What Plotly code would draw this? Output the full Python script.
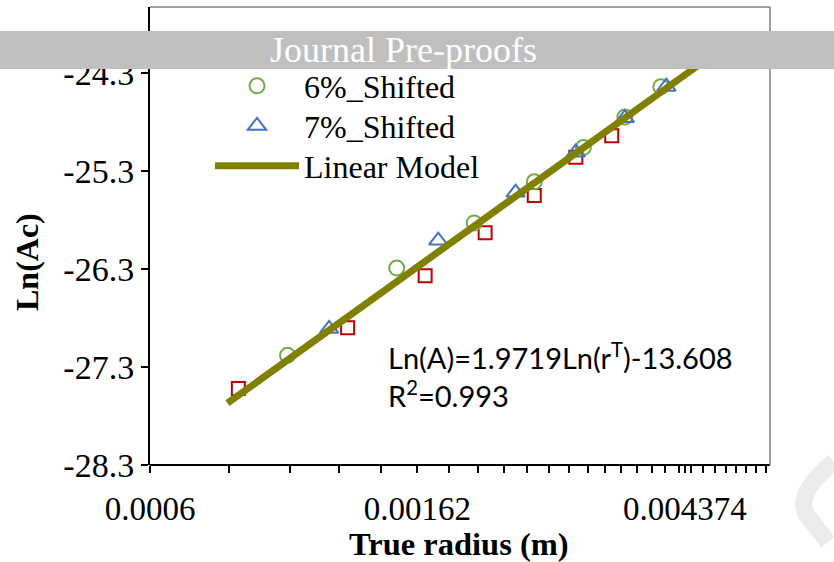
import numpy as np
import plotly.graph_objects as go

# Measured points for the three shift levels: true radius (m) vs Ln(Ac)
r_5 = [0.000833, 0.00125, 0.001667, 0.002083, 0.0025, 0.002917, 0.003333]
ln_ac_5 = [-27.52, -26.90, -26.37, -25.93, -25.55, -25.16, -24.94]

r_6 = [0.001, 0.0015, 0.002, 0.0025, 0.003, 0.0035, 0.004]
ln_ac_6 = [-27.18, -26.29, -25.83, -25.41, -25.06, -24.75, -24.44]

r_7 = [0.001167, 0.00175, 0.002333, 0.002917, 0.0035, 0.004083]
ln_ac_7 = [-26.91, -26.01, -25.52, -25.11, -24.76, -24.44]

# Fitted linear model Ln(A) = a*Ln(r) + b
slope = 1.9719
intercept = -13.608
r_fit_span = [0.0008, 0.0049]

x_major = [0.0006, 0.00162, 0.004374]
x_major_text = ["0.0006", "0.00162", "0.004374"]
x_minor_step = 0.000204
y_ticks = [-28.3, -27.3, -26.3, -25.3, -24.3]
y_tick_text = ["-28.3", "-27.3", "-26.3", "-25.3", "-24.3"]

X_MIN, X_BOX, X_MAX_LOG = 0.0006, 0.006, np.log10(0.0006) + 684 / 620
Y_MIN, Y_MAX = -28.3, -28.3 + 458 / 98

W, H = 834, 562
ML, MR, MT, MB = 150, 0, 7, 97
PW, PH = W - ML - MR, H - MT - MB


def px(xp):
    return (xp - ML) / PW


def py(yp):
    return (H - MB - yp) / PH


serif = "Times New Roman, Liberation Serif, serif"

r_line = np.geomspace(r_fit_span[0], r_fit_span[1], 60)
ln_line = slope * np.log(r_line) + intercept

minor_all = [X_MIN + k * x_minor_step for k in range(1, 40)]
minor_all = [v for v in minor_all if 10 ** X_MAX_LOG >= v]
minor_in = [v for v in minor_all if v <= X_BOX + 1e-9 and abs(v - 0.00162) > 1e-7]
minor_out = [v for v in minor_all if v > X_BOX + 1e-9]

fig = go.Figure()
fig.add_trace(go.Scatter(
    x=r_5, y=ln_ac_5, mode="markers", name="5%_Shifted", showlegend=False,
    marker=dict(symbol="square-open", size=13, color="#C00000", line=dict(width=2)),
))
fig.add_trace(go.Scatter(
    x=r_6, y=ln_ac_6, mode="markers", name="6%_Shifted", legend="legend",
    marker=dict(symbol="circle-open", size=15, color="#70AD47", line=dict(width=2)),
))
fig.add_trace(go.Scatter(
    x=r_7, y=ln_ac_7, mode="markers", name="7%_Shifted", legend="legend2",
    marker=dict(symbol="triangle-up-open", size=16, color="#4472C4", line=dict(width=2)),
))
fig.add_trace(go.Scatter(
    x=r_line, y=ln_line, mode="lines", name="Linear Model", legend="legend3",
    line=dict(color="#808000", width=7),
))

legend_style = dict(
    xanchor="left", yanchor="middle", bgcolor="rgba(0,0,0,0)", itemwidth=84,
    font=dict(family=serif, size=32, color="black"),
)

fig.update_layout(
    width=W, height=H,
    margin=dict(l=ML, r=MR, t=MT, b=MB),
    paper_bgcolor="white", plot_bgcolor="white",
    font=dict(family=serif, size=30, color="black"),
    xaxis=dict(
        type="log", range=[np.log10(X_MIN), X_MAX_LOG],
        tickmode="array", tickvals=x_major, ticktext=x_major_text,
        ticks="outside", ticklen=7, tickwidth=2, tickcolor="black",
        minor=dict(tickmode="array", tickvals=minor_in, ticks="outside",
                   ticklen=7, tickwidth=2, tickcolor="black"),
        showline=False, showgrid=False, zeroline=False,
        tickfont=dict(family=serif, size=33, color="black"), ticklabelstandoff=7,
    ),
    xaxis2=dict(
        type="log", range=[np.log10(X_MIN), X_MAX_LOG], overlaying="x", anchor="y",
        side="bottom", tickmode="array", tickvals=minor_out, showticklabels=False,
        ticks="outside", ticklen=7, tickwidth=1.5, tickcolor="#404040",
        showline=False, showgrid=False, zeroline=False,
    ),
    yaxis=dict(
        range=[Y_MIN, Y_MAX], tickmode="array", tickvals=y_ticks, ticktext=y_tick_text,
        ticks="outside", ticklen=7, tickwidth=2, tickcolor="black",
        showline=True, linewidth=2, linecolor="black",
        showgrid=False, zeroline=False,
        tickfont=dict(family=serif, size=34, color="black"),
    ),
    yaxis2=dict(
        range=[Y_MIN, Y_MAX], overlaying="y", anchor="x", side="left",
        tickmode="array", tickvals=y_ticks, showticklabels=False,
        ticks="inside", ticklen=6, tickwidth=2, tickcolor="black",
        showline=False, showgrid=False, zeroline=False,
    ),
    legend=dict(x=px(210), y=py(86), **legend_style),
    legend2=dict(x=px(210), y=py(126), **legend_style),
    legend3=dict(x=px(210), y=py(166), **legend_style),
    showlegend=True,
)

shapes = [
    # frame: bottom axis line, right and top borders
    dict(type="line", xref="x", yref="paper", x0=X_MIN, x1=X_BOX, y0=0, y1=0,
         line=dict(color="black", width=2)),
    dict(type="line", xref="x", yref="paper", x0=X_BOX, x1=X_BOX, y0=0, y1=1,
         line=dict(color="#808080", width=1.5)),
    dict(type="line", xref="x", yref="paper", x0=X_MIN, x1=X_BOX, y0=1, y1=1,
         line=dict(color="#808080", width=1.5)),
    # header band
    dict(type="rect", xref="paper", yref="paper", x0=px(0), x1=px(W), y0=py(69), y1=py(31),
         fillcolor="#BFBFBF", line=dict(width=0), layer="above"),
    # faint logo stroke at the lower right
    dict(type="path", xref="paper", yref="paper",
         path=f"M {px(834)},{py(462)} Q {px(796)},{py(492)} {px(806)},{py(514)} L {px(828)},{py(542)}",
         line=dict(color="#EBEBEB", width=17), layer="below"),
]
fig.update_layout(shapes=shapes)

fig.add_annotation(
    text="Journal Pre-proofs", xref="paper", yref="paper", x=px(403), y=py(50),
    xanchor="center", yanchor="middle", showarrow=False,
    font=dict(family=serif, size=36, color="white"),
)
fig.add_annotation(
    text="Ln(A)=1.9719Ln(r<sup>T</sup>)-13.608<br>R<sup>2</sup>=0.993",
    xref="paper", yref="paper", x=px(386), y=py(375), xanchor="left", yanchor="middle",
    align="left", showarrow=False,
    font=dict(family="Lato, Carlito, Calibri, sans-serif", size=29, color="black"),
)
fig.add_annotation(
    text="<b>Ln(Ac)</b>", xref="paper", yref="paper", x=px(27), y=py(262),
    xanchor="center", yanchor="middle", textangle=-90, showarrow=False,
    font=dict(family=serif, size=32, color="black"),
)
fig.add_annotation(
    text="<b>True radius (m)</b>", xref="paper", yref="paper", x=px(459), y=py(544),
    xanchor="center", yanchor="middle", showarrow=False,
    font=dict(family=serif, size=32.5, color="black"),
)

fig.write_html("out.html")
